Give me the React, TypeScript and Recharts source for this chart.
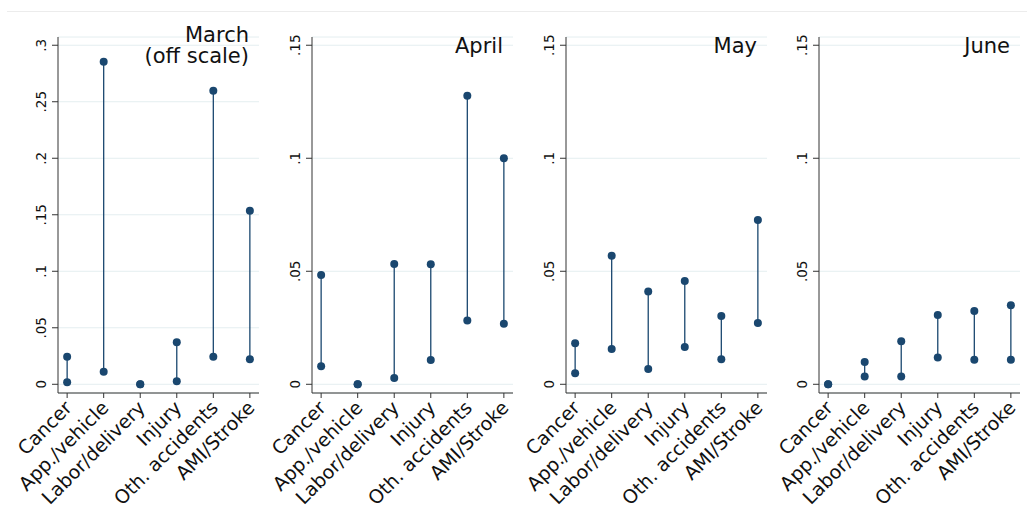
import { CartesianGrid, ComposedChart, ReferenceLine, Scatter, XAxis, YAxis } from "recharts";

const categories = ["Cancer", "App./vehicle", "Labor/delivery", "Injury", "Oth. accidents", "AMI/Stroke"];

const marchLow = [0.0018, 0.0112, 0, 0.0027, 0.0244, 0.0221];
const marchHigh = [0.0244, 0.2855, 0, 0.0372, 0.2598, 0.1536];
const aprilLow = [0.008, 0, 0.0028, 0.0108, 0.0282, 0.0268];
const aprilHigh = [0.0484, 0, 0.0532, 0.0531, 0.1277, 0.1];
const mayLow = [0.0049, 0.0156, 0.0068, 0.0165, 0.0111, 0.0271];
const mayHigh = [0.0181, 0.0569, 0.0411, 0.0457, 0.0302, 0.0727];
const juneLow = [0, 0.0034, 0.0035, 0.0118, 0.0109, 0.0109];
const juneHigh = [0, 0.0099, 0.019, 0.0307, 0.0324, 0.035];

const marchTicks = [0, 0.05, 0.1, 0.15, 0.2, 0.25, 0.3];
const otherTicks = [0, 0.05, 0.1, 0.15];

const panels = [
  { title: ["March", "(off scale)"], low: marchLow, high: marchHigh, ticks: marchTicks, max: 0.3 },
  { title: ["April"], low: aprilLow, high: aprilHigh, ticks: otherTicks, max: 0.15 },
  { title: ["May"], low: mayLow, high: mayHigh, ticks: otherTicks, max: 0.15 },
  { title: ["June"], low: juneLow, high: juneHigh, ticks: otherTicks, max: 0.15 },
];

const NAVY = "#1a476f";
const FONT = "DejaVu Sans";
const panelLeft = [0, 254, 508, 761];

const fmt = (v: number) => (v === 0 ? "0" : String(Number(v.toFixed(2))).replace(/^0/, ""));

const YTick = (props: any) => {
  const { x, y, payload } = props;
  const bx = x - 4;
  return (
    <text x={bx} y={y} transform={`rotate(-90 ${bx} ${y})`} textAnchor="middle" fontSize={13.5} fontFamily={FONT} fill="#111">
      {fmt(payload.value)}
    </text>
  );
};

const XTick = (props: any) => {
  const { x, y, payload } = props;
  const ax = x + 6;
  const ay = y + 9;
  return (
    <text x={ax} y={ay} transform={`rotate(-45 ${ax} ${ay})`} textAnchor="end" fontSize={19} fontFamily={FONT} fill="#111">
      {categories[payload.value]}
    </text>
  );
};

const Dot = (props: any) => <circle cx={props.cx} cy={props.cy} r={4} fill={NAVY} />;

function Panel({ p, left }: { p: (typeof panels)[number]; left: number }) {
  const rows = categories.map((c, i) => ({ x: i, name: c, lo: p.low[i], hi: p.high[i] }));
  return (
    <div style={{ position: "absolute", left, top: 0 }}>
      <ComposedChart width={269} height={525} data={rows} margin={{ top: 37, right: 10, bottom: 0, left: 0 }}>
        <CartesianGrid vertical={false} stroke="#e4eef0" strokeWidth={1} />
        <XAxis
          dataKey="x"
          type="number"
          domain={[-0.25, 5.25]}
          ticks={[0, 1, 2, 3, 4, 5]}
          interval={0}
          tick={<XTick />}
          tickSize={5}
          height={132}
          stroke="#333"
          allowDataOverflow
        />
        <YAxis
          type="number"
          domain={[-p.max * 0.0257, p.max * 1.0243]}
          ticks={p.ticks}
          interval={0}
          tick={<YTick />}
          tickSize={6}
          width={58}
          stroke="#333"
          allowDataOverflow
        />
        {rows.map((r) => (
          <ReferenceLine
            key={r.name}
            segment={[
              { x: r.x, y: r.lo },
              { x: r.x, y: r.hi },
            ]}
            stroke={NAVY}
            strokeWidth={1.3}
          />
        ))}
        <Scatter dataKey="lo" shape={<Dot />} isAnimationActive={false} />
        <Scatter dataKey="hi" shape={<Dot />} isAnimationActive={false} />
      </ComposedChart>
    </div>
  );
}

export default function App() {
  return (
    <div style={{ position: "absolute", left: 0, top: 0, width: 1034, height: 525, background: "#fff", overflow: "hidden" }}>
      <div style={{ position: "absolute", left: 7, top: 11, width: 1020, height: 1, background: "#ececec" }} />
      {panels.map((p, i) => (
        <Panel key={i} p={p} left={panelLeft[i]} />
      ))}
      <svg width={1034} height={525} style={{ position: "absolute", left: 0, top: 0, pointerEvents: "none" }}>
        {panels.map((p, i) => {
          const right = panelLeft[i] + 58 + 201 - 10;
          const base = p.title.length > 1 ? 42 : 53;
          return p.title.map((t, j) => (
            <text key={`${i}-${j}`} x={right} y={base + j * 21} textAnchor="end" fontSize={21} fontFamily={FONT} fill="#111">
              {t}
            </text>
          ));
        })}
      </svg>
    </div>
  );
}
